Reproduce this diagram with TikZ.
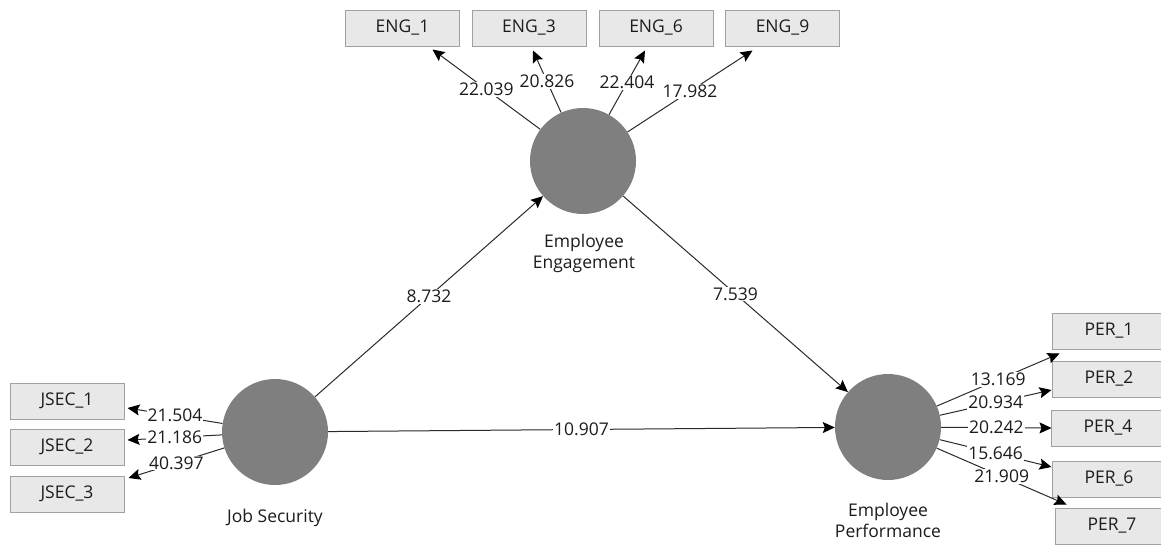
\documentclass[tikz,border=0pt]{standalone}
\usepackage{fontspec}
\setmainfont{Open Sans}
\usetikzlibrary{arrows.meta,calc}
\definecolor{boxfill}{HTML}{E8E8E8}
\definecolor{boxdraw}{HTML}{A0A0A0}
\definecolor{latent}{HTML}{7F7F7F}
\definecolor{linec}{HTML}{2A2A2A}
\definecolor{txt}{HTML}{1C1C1C}
\tikzset{
  indbox/.style={draw=boxdraw,fill=boxfill,line width=1pt,minimum width=114pt,minimum height=36pt,inner sep=0pt,text=txt,font=\fontsize{17.5}{20}\selectfont},
  latentc/.style={circle,fill=latent,minimum size=106pt,inner sep=0pt},
  lbl/.style={text=txt,font=\fontsize{17.5}{21}\selectfont,align=center},
  arr/.style={draw=linec,line width=1pt,-{Stealth[length=12pt,width=11pt,inset=2pt,fill=black,color=black]}},
  wt/.style={midway,fill=white,inner sep=1pt,text=txt,font=\fontsize{17.5}{20}\selectfont}
}
\begin{document}
\begin{tikzpicture}[x=1pt,y=-1pt]
\useasboundingbox[fill=white] (0,0) rectangle (1161,544);
% latent variables
\node[latentc] (eng) at (583,161) {};
\node[latentc] (js) at (275,432) {};
\node[latentc] (ep) at (888,427) {};
\node[lbl] (engl) at (584,253) {Employee\\Engagement};
\node[lbl] (jsl) at (275,518) {Job Security};
\node[lbl] (epl) at (888,520) {Employee\\Performance};
% indicators
\node[indbox] (e1) at (402.5,28) {ENG\_1};
\node[indbox] (e3) at (529,28) {ENG\_3};
\node[indbox] (e6) at (656,28) {ENG\_6};
\node[indbox] (e9) at (782.5,28) {ENG\_9};
\node[indbox] (j1) at (67,401) {JSEC\_1};
\node[indbox] (j2) at (67,447) {JSEC\_2};
\node[indbox] (j3) at (67,494) {JSEC\_3};
\node[indbox] (p1) at (1109,331) {PER\_1};
\node[indbox] (p2) at (1109,379) {PER\_2};
\node[indbox] (p4) at (1108,428) {PER\_4};
\node[indbox] (p6) at (1109,479) {PER\_6};
\node[indbox] (p7) at (1112,526) {PER\_7};
% outer loadings engagement
\draw[arr] (eng) -- ([xshift=30pt,yshift=-3pt]e1.south) node[wt] {22.039};
\draw[arr] (eng) -- ([xshift=4pt,yshift=-4pt]e3.south) node[wt] {20.826};
\draw[arr] (eng) -- ([xshift=-11pt,yshift=-4pt]e6.south) node[wt] {22.404};
\draw[arr] (eng) -- ([xshift=-30pt,yshift=-4pt]e9.south) node[wt] {17.982};
% job security
\draw[arr] (js) -- ([xshift=3pt,yshift=-7pt]j1.east) node[wt] {21.504};
\draw[arr] (js) -- ([xshift=3pt,yshift=7pt]j2.east) node[wt] {21.186};
\draw[arr] (js) -- ([xshift=4pt,yshift=16pt]j3.east) node[wt] {40.397};
% performance
\draw[arr] (ep) -- ([xshift=8pt,yshift=-4pt]p1.south west) node[wt] {13.169};
\draw[arr] (ep) -- ([yshift=-11pt]p2.west) node[wt] {20.934};
\draw[arr] (ep) -- ([xshift=1pt]p4.west) node[wt] {20.242};
\draw[arr] (ep) -- ([yshift=12pt]p6.west) node[wt] {15.646};
\draw[arr] (ep) -- ([xshift=12pt,yshift=3pt]p7.north west) node[wt] {21.909};
% inner model
\draw[arr] (js) -- (eng) node[wt] {8.732};
\draw[arr] (eng) -- (ep) node[wt] {7.539};
\draw[arr] (js) -- (ep) node[wt] {10.907};
\end{tikzpicture}
\end{document}
